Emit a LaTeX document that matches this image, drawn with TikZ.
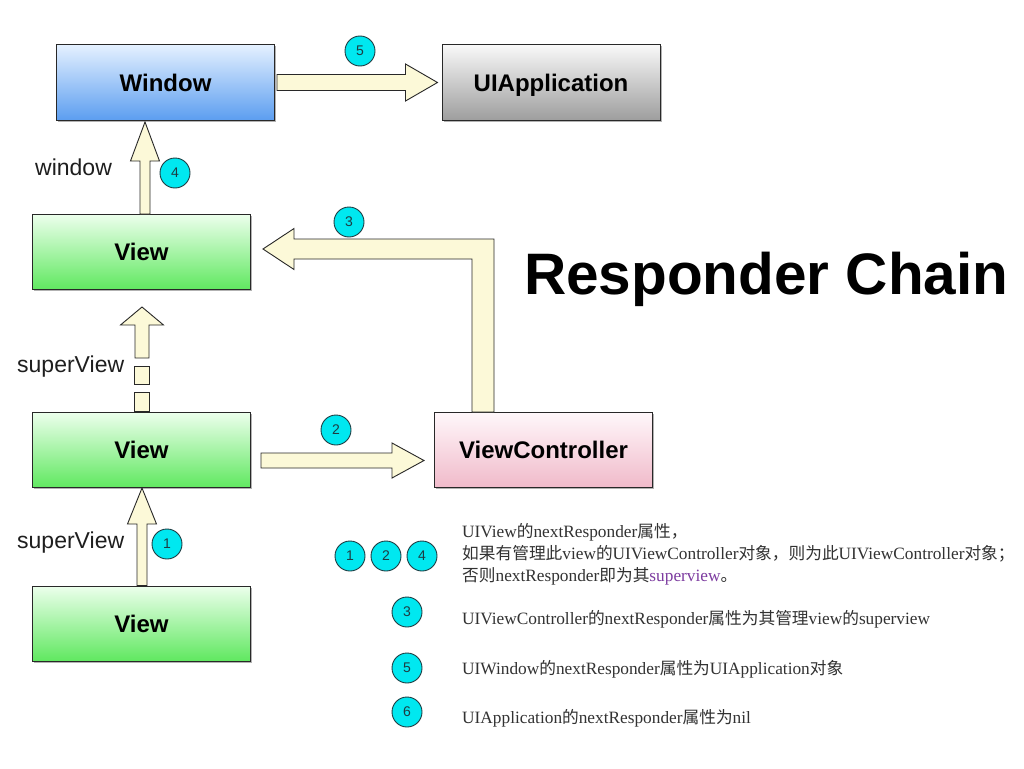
\documentclass[tikz,border=0pt]{standalone}
\usepackage{fontspec}
\setmainfont{Liberation Serif}
\newfontfamily\hv{Liberation Sans}
\newfontfamily\cjk{Noto Sans CJK SC}
\usetikzlibrary{calc,shadows}
\definecolor{arrowfill}{RGB}{252,249,216}
\definecolor{edge}{RGB}{40,40,40}
\definecolor{cyanc}{RGB}{0,232,240}
\definecolor{numtext}{RGB}{30,60,66}
\definecolor{legtext}{RGB}{50,50,50}
\definecolor{purp}{RGB}{125,60,160}
\newcommand\zh[1]{{\cjk\fontsize{16.7}{22}\selectfont #1}}
% right-pointing block arrow: base, tip, shaft half, head half, head length
\newcommand\RArrow[5]{\draw[barrow] ($(#1)+(0,-#3)$) -- ($(#2)+(-#5,-#3)$) -- ($(#2)+(-#5,-#4)$) -- (#2) -- ($(#2)+(-#5,#4)$) -- ($(#2)+(-#5,#3)$) -- ($(#1)+(0,#3)$) -- cycle;}
% up-pointing block arrow
\newcommand\UArrow[5]{\draw[barrow] ($(#1)+(-#3,0)$) -- ($(#2)+(-#3,#5)$) -- ($(#2)+(-#4,#5)$) -- (#2) -- ($(#2)+(#4,#5)$) -- ($(#2)+(#3,#5)$) -- ($(#1)+(#3,0)$) -- cycle;}
\tikzset{
  boxbase/.style={draw=edge, line width=1pt, inner sep=0pt, minimum width=218pt, minimum height=75pt,
    text height=17.2pt, text depth=0pt,
    font=\hv\bfseries\fontsize{24}{28}\selectfont,
    drop shadow={shadow xshift=1.5pt, shadow yshift=-1.5pt, opacity=0.3, fill=black}},
  winbox/.style={boxbase, top color={rgb,255:red,228;green,240;blue,255}, bottom color={rgb,255:red,92;green,158;blue,240}},
  appbox/.style={boxbase, top color={rgb,255:red,248;green,248;blue,248}, bottom color={rgb,255:red,158;green,158;blue,158}},
  viewbox/.style={boxbase, top color={rgb,255:red,236;green,255;blue,236}, bottom color={rgb,255:red,96;green,232;blue,96}},
  vcbox/.style={boxbase, top color={rgb,255:red,255;green,247;blue,250}, bottom color={rgb,255:red,240;green,186;blue,202}},
  barrow/.style={draw=edge, fill=arrowfill, line width=0.9pt, line join=miter},
  numc/.style={circle, draw=numtext, line width=0.9pt, fill=cyanc, minimum size=30pt, inner sep=0pt,
    font=\hv\fontsize{14}{14}\selectfont, text=numtext},
  lbl/.style={anchor=base west, inner sep=0pt, font=\hv\fontsize{23}{26}\selectfont, text={rgb,255:red,30;green,30;blue,30}},
  leg/.style={anchor=base west, inner sep=0pt, font=\fontsize{17.3}{22}\selectfont, text=legtext},
}
\begin{document}
\begin{tikzpicture}[x=1pt, y=-1pt]
\useasboundingbox (0,0) rectangle (1024,768);
\fill[white] (0,0) rectangle (1024,768);

% boxes
\node[winbox]  (win) at (165.5,82.5) {Window};
\node[appbox]  (app) at (551,82.5) {UIApplication};
\node[viewbox] (v1)  at (141.5,252) {View};
\node[viewbox] (v2)  at (141.5,450) {View};
\node[viewbox] (v3)  at (141.5,623.5) {View};
\node[vcbox]   (vc)  at (543.5,450) {ViewController};

% arrow 5: Window -> UIApplication
\coordinate (a5b) at ($(win.east)+(2,0)$);
\coordinate (a5t) at ($(app.west)+(-4,0)$);
\RArrow{a5b}{a5t}{8}{18.5}{32}

% arrow 2: View -> ViewController
\coordinate (a2b) at ($(v2.east)+(10,10.5)$);
\coordinate (a2t) at ($(vc.west)+(-10,10.5)$);
\RArrow{a2b}{a2t}{7.5}{17.5}{32}

% arrow 4: View -> Window
\coordinate (a4b) at ($(v1.north)+(3.5,0)$);
\coordinate (a4t) at ($(a4b |- win.south)+(0,1.5)$);
\UArrow{a4b}{a4t}{5}{14.5}{39}

% arrow 1: View -> View
\coordinate (a1b) at ($(v3.north)+(0.5,0)$);
\coordinate (a1t) at (a1b |- v2.south);
\UArrow{a1b}{a1t}{5}{14.5}{36}

% dashed superView arrow: View -> View
\coordinate (adb) at ($(v2.north)+(0.5,-54)$);
\coordinate (adt) at ($(adb |- v1.south)+(0,17)$);
\UArrow{adb}{adt}{7}{21.5}{18}
\draw[barrow] ($(v2.north)+(-7,-28)$) rectangle ($(v2.north)+(8,-46)$);
\draw[barrow] ($(v2.north)+(-7,-1)$) rectangle ($(v2.north)+(8,-20)$);

% arrow 3: ViewController -> View (L-shaped)
\coordinate (b3) at ($(vc.north)+(-60.5,0)$);
\coordinate (t3) at ($(v1.east)+(12,-3)$);
\coordinate (c3) at (b3 |- t3);
\draw[barrow] ($(b3)+(-11,0)$) -- ($(c3)+(-11,10)$) -- ($(t3)+(31,10)$) -- ($(t3)+(31,20.5)$) -- (t3)
  -- ($(t3)+(31,-20.5)$) -- ($(t3)+(31,-10)$) -- ($(c3)+(11,-10)$) -- ($(b3)+(11,0)$) -- cycle;

% numbered circles on the diagram
\node[numc] (c5) at (360,51) {5};
\node[numc] (c4) at (175,173) {4};
\node[numc] (c3n) at (349,222) {3};
\node[numc] (c2) at (336,430) {2};
\node[numc] (c1) at (167,544) {1};

% labels
\node[lbl] (lw)  at (35,175) {window};
\node[lbl] (ls1) at (17,372) {superView};
\node[lbl] (ls2) at (17,548) {superView};

% title
\node[anchor=base west, inner sep=0pt, font=\hv\bfseries\fontsize{58.5}{62}\selectfont] (title) at (524,294) {Responder Chain};

% legend
\node[numc] (l1) at (350,556) {1};
\node[numc] (l2) at (386,556) {2};
\node[numc] (l4) at (422,556) {4};
\node[numc] (l3) at (407,612) {3};
\node[numc] (l5) at (407,668) {5};
\node[numc] (l6) at (407,712) {6};

\node[leg] (t1a) at (462,537) {UIView\zh{的}nextResponder\zh{属性，}};
\node[leg] (t1b) at (462,559) {\zh{如果有管理此}view\zh{的}UIViewController\zh{对象，则为此}UIViewController\zh{对象；}};
\node[leg] (t1c) at (462,581) {\zh{否则}nextResponder\zh{即为其}\textcolor{purp}{superview}\zh{。}};
\node[leg] (t3x) at (462,624) {UIViewController\zh{的}nextResponder\zh{属性为其管理}view\zh{的}superview};
\node[leg] (t5x) at (462,674) {UIWindow\zh{的}nextResponder\zh{属性为}UIApplication\zh{对象}};
\node[leg] (t6x) at (462,723) {UIApplication\zh{的}nextResponder\zh{属性为}nil};
\end{tikzpicture}
\end{document}
